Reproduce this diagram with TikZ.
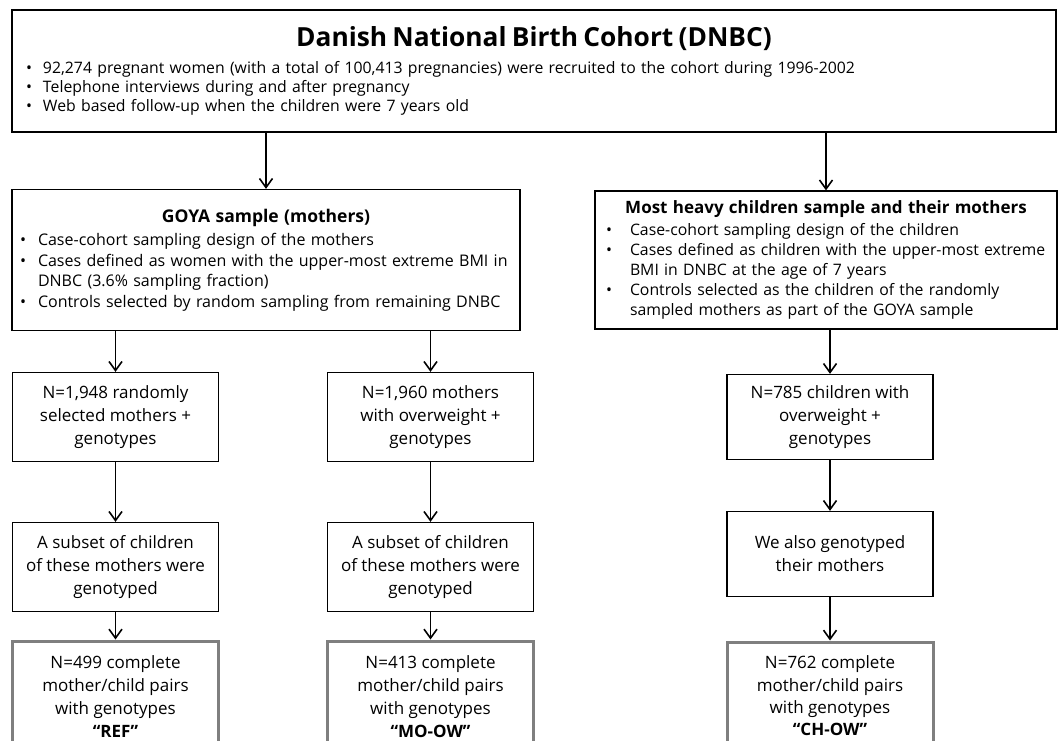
\documentclass[tikz,border=0pt]{standalone}
\usepackage{fontspec}
\setmainfont{Open Sans}
\usetikzlibrary{arrows.meta,trees}
\definecolor{framegray}{RGB}{127,127,127}
\newcommand{\bul}[1][18pt]{\makebox[#1][l]{\textbullet}}
\newcommand{\ind}[1][18pt]{\hspace*{#1}}
\newcommand{\boxtitle}[2]{{\centering\fontsize{#1}{#1}\selectfont\bfseries #2\par}}

\begin{document}
\begin{tikzpicture}[x=1pt,y=1pt,
  edge from parent path={(\tikzparentnode.south -| \tikzchildnode.north) -- (\tikzchildnode.north)}]
\tikzstyle{every node}=[draw,line width=1.3pt,inner sep=0pt]
\tikzstyle{listbox}=[align=left,font=\fontsize{16}{20.5}\selectfont]
\tikzstyle{smallbox}=[align=center,minimum width=206pt,minimum height=89pt,font=\fontsize{17}{23}\selectfont]
\tikzstyle{resultbox}=[smallbox,draw=framegray,line width=3pt,minimum height=112pt]
\tikzstyle{edge from parent}=[draw,line width=1.6pt,-{Straight Barb[length=9pt,width=13pt]}]
\tikzstyle{level 1}=[grow via three points={one child at (0,-189) and two children at (-268,-189) and (292,-189)}]
\tikzstyle{level 2}=[grow via three points={one child at (4,-157) and two children at (-150.5,-157) and (164.5,-157)}]
\tikzstyle{level 3}=[grow=down,level distance=150pt]
\tikzstyle{level 4}=[level distance=130pt]
\useasboundingbox (0,0) rectangle (1060,-740);
\clip (0,0) rectangle (1060,-740);
\node[listbox,text width=1016pt,inner xsep=14pt,minimum height=122pt,font=\fontsize{15.8}{19}\selectfont] (dnbc) at (534,-71)
{\boxtitle{26.3}{Danish National Birth Cohort (DNBC)}\vspace{8pt}
\bul[17pt]92,274 pregnant women (with a total of 100,413 pregnancies) were recruited to the cohort during 1996-2002\\
\bul[17pt]Telephone interviews during and after pregnancy\\
\bul[17pt]Web based follow-up when the children were 7 years old}
child {node[listbox,text width=492pt,inner xsep=8pt,minimum height=141pt] (goya)
{\boxtitle{17.5}{GOYA sample (mothers)}\vspace{3pt}
\bul Case-cohort sampling design of the mothers\\
\bul Cases defined as women with the upper-most extreme BMI in\\
\ind DNBC (3.6\% sampling fraction)\\
\bul Controls selected by random sampling from remaining DNBC\\[6pt]}
child {node[smallbox] (randmo) {N=1,948 randomly\\selected mothers +\\genotypes}
child {node[smallbox] (randkid) {A subset of children\\of these mothers were\\genotyped}
child {node[resultbox] (ref) {N=499 complete\\mother/child pairs\\with genotypes\\\textbf{“REF”}}
}
}
}
child {node[smallbox] (owmo) {N=1,960 mothers\\with overweight +\\genotypes}
child {node[smallbox] (owkid) {A subset of children\\of these mothers were\\genotyped}
child {node[resultbox] (moow) {N=413 complete\\mother/child pairs\\with genotypes\\\textbf{“MO-OW”}}
}
}
}
}
child {node[listbox,text width=456pt,inner xsep=3pt,minimum height=138pt,font=\fontsize{15.8}{20}\selectfont] (heavy)
{\boxtitle{17}{Most heavy children sample and their mothers}\vspace{2pt}
\ind[8pt]\bul[24pt]Case-cohort sampling design of the children\\
\ind[8pt]\bul[24pt]Cases defined as children with the upper-most extreme\\
\ind[32pt]BMI in DNBC at the age of 7 years\\
\ind[8pt]\bul[24pt]Controls selected as the children of the randomly\\
\ind[32pt]sampled mothers as part of the GOYA sample}
child {node[smallbox,minimum height=85pt] (owch) {N=785 children with\\overweight +\\genotypes}
child[level distance=137pt] {node[smallbox,minimum height=85pt] (chmo) {We also genotyped\\their mothers}
child[level distance=142pt] {node[resultbox,minimum height=108pt,font=\fontsize{17}{22.3}\selectfont] (chow) {N=762 complete\\mother/child pairs\\with genotypes\\\textbf{“CH-OW”}}
}
}
}
};
\end{tikzpicture}
\end{document}
